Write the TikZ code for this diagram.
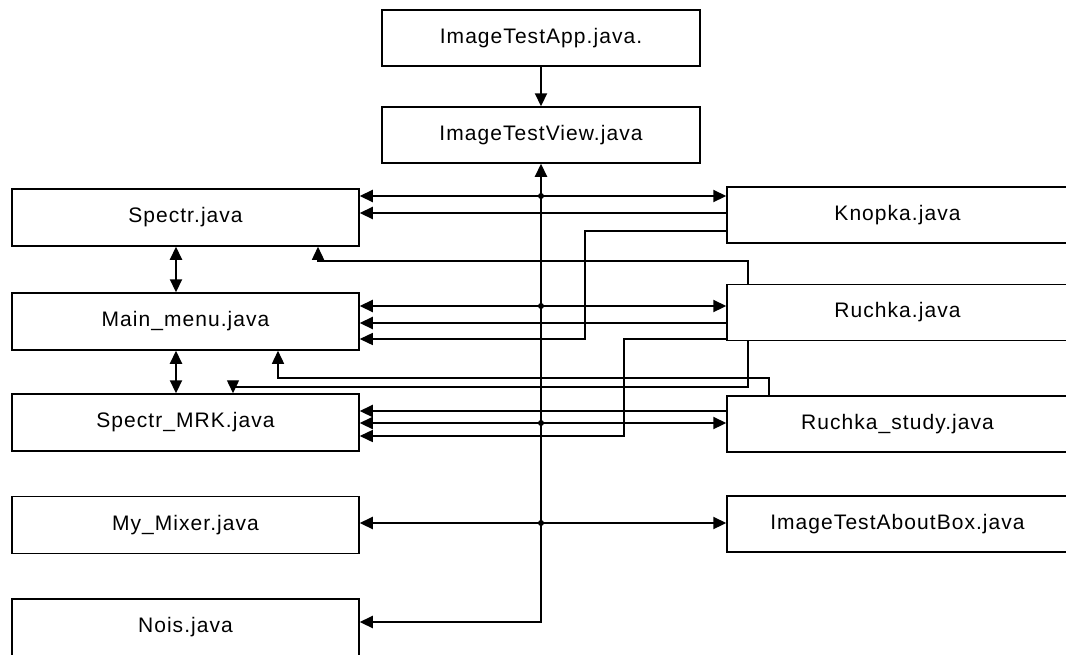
\documentclass[tikz,border=0pt]{standalone}
\usepackage{fontspec}
\setmainfont{Liberation Sans}[LetterSpace=5]
\usetikzlibrary{arrows.meta}

\begin{document}
\begin{tikzpicture}[x=1pt,y=-1pt,
 module/.style={draw,line width=1.5pt,minimum width=347pt,minimum height=57pt,inner sep=0pt,font=\fontsize{21}{25}\selectfont},
 appbox/.style={module,minimum width=318pt,minimum height=56pt},
 side/.style={module,minimum width=341pt,minimum height=56pt},
 link/.style={line width=2.2pt,-{Triangle[length=13pt,width=12pt]}},
 duplex/.style={line width=2.2pt,{Triangle[length=13pt,width=12pt]}-{Triangle[length=13pt,width=12pt]}},
 wire/.style={line width=1.4pt,-{Triangle[length=13pt,width=12pt]}}
]
\useasboundingbox (0,0) rectangle (1066,654);
% modules
\node[appbox] (app) at (541,38) {ImageTestApp.java.};
\node[appbox] (view) at (541,135) {ImageTestView.java};
\node[module] (spectr) at (185.5,217.5) {Spectr.java};
\node[module] (mainmenu) at (185.5,321.5) {Main\_menu.java};
\node[module] (spectrmrk) at (185.5,422.5) {Spectr\_MRK.java};
\node[module] (mixer) at (185.5,525) {My\_Mixer.java};
\node[module] (nois) at (185.5,627.5) {Nois.java};
\node[side] (knopka) at (897.5,215) {Knopka.java};
\node[side] (ruchka) at (897.5,312.5) {Ruchka.java};
\node[side] (study) at (897.5,424) {Ruchka\_study.java};
\node[side] (about) at (897.5,524) {ImageTestAboutBox.java};
% junctions on the trunk
\coordinate (jspectr) at (541,196);
\coordinate (jmenu) at (541,306);
\coordinate (jmrk) at (541,423);
\coordinate (jmixer) at (541,523);
\coordinate (jnois) at (541,622);
\coordinate (vx) at (176,0);
\coordinate (lvlks) at (0,213);
\coordinate (lvlrm) at (0,323);
\coordinate (lvlsm) at (0,411);
% trunk
\draw[link] (app.south) -- (view.north);
\draw[duplex] (nois.east |- jnois) -- (jnois) -- (view.south);
\draw[link] (jspectr) -- (spectr.east |- jspectr);
\draw[link] (jspectr) -- (knopka.west |- jspectr);
\draw[link] (jmenu) -- (mainmenu.east |- jmenu);
\draw[link] (jmenu) -- (ruchka.west |- jmenu);
\draw[link] (jmrk) -- (spectrmrk.east |- jmrk);
\draw[link] (jmrk) -- (study.west |- jmrk);
\draw[link] (jmixer) -- (mixer.east |- jmixer);
\draw[link] (jmixer) -- (about.west |- jmixer);
\foreach \j in {jspectr,jmenu,jmrk,jmixer}
  \fill (\j) circle (3);
% direct links
\draw[link] (knopka.west |- lvlks) -- (spectr.east |- lvlks);
\draw[link] (ruchka.west |- lvlrm) -- (mainmenu.east |- lvlrm);
\draw[link] (study.west |- lvlsm) -- (spectrmrk.east |- lvlsm);
\draw[duplex] (spectr.south -| vx) -- (mainmenu.north -| vx);
\draw[duplex] (mainmenu.south -| vx) -- (spectrmrk.north -| vx);
% routed links
\coordinate (kbend) at (585,231);
\coordinate (kdrop) at (585,339);
\draw[wire] (knopka.west |- kbend) -- (kbend) -- (kdrop) -- (mainmenu.east |- kdrop);
\coordinate (rup) at (748,261);
\coordinate (rleft) at (318,261);
\draw[wire] (ruchka.north -| rup) -- (rup) -- (rleft) -- (spectr.south -| rleft);
\coordinate (rbend) at (624,339);
\coordinate (rdrop) at (624,436);
\draw[wire] (ruchka.west |- rbend) -- (rbend) -- (rdrop) -- (spectrmrk.east |- rdrop);
\coordinate (stup) at (769,378);
\coordinate (stleft) at (278,378);
\draw[wire] (study.north -| stup) -- (stup) -- (stleft) -- (mainmenu.south -| stleft);
\coordinate (rdown) at (748,387);
\coordinate (rmrk) at (233,387);
\draw[wire] (ruchka.south -| rdown) -- (rdown) -- (rmrk) -- (spectrmrk.north -| rmrk);
\end{tikzpicture}
\end{document}
